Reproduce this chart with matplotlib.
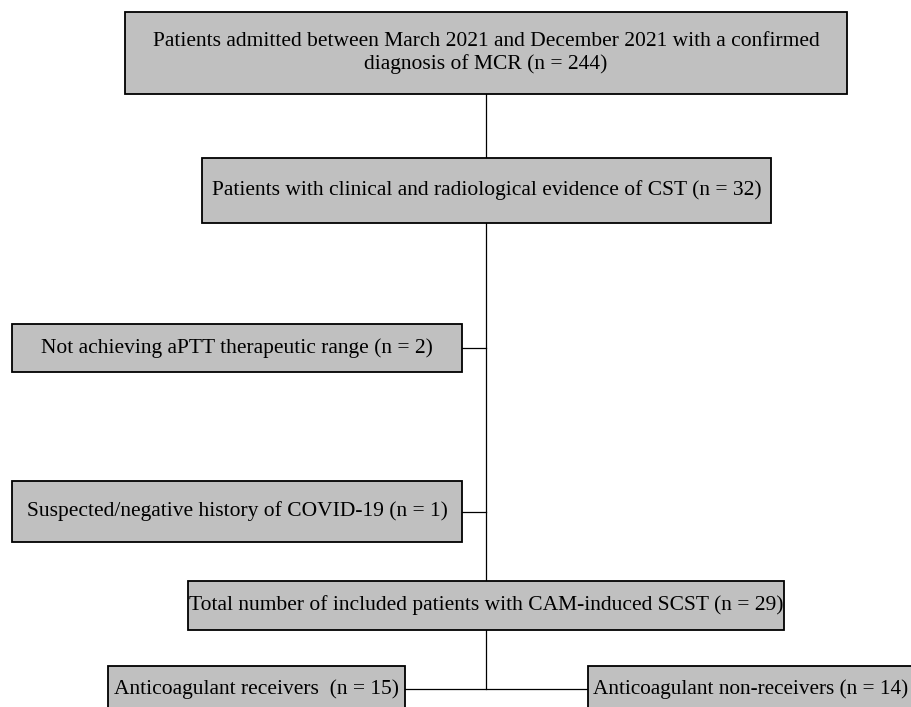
"""
Flowchart of patient selection (MCR / CST / CAM-induced SCST)
pixel coordinates, y axis pointing down
"""

import matplotlib.pyplot as plt
from matplotlib.patches import Rectangle

plt.rcParams['font.family'] = ['Liberation Serif', 'DejaVu Serif']

# box texts
box_texts = [
    'Patients admitted between March 2021 and December 2021 with a confirmed\ndiagnosis of MCR (n = 244)',
    'Patients with clinical and radiological evidence of CST (n = 32)',
    'Not achieving aPTT therapeutic range (n = 2)',
    'Suspected/negative history of COVID-19 (n = 1)',
    'Total number of included patients with CAM-induced SCST (n = 29)',
    'Anticoagulant receivers  (n = 15)',
    'Anticoagulant non-receivers (n = 14)',
]

# layout: (left, top, right, bottom) in pixels
box_layout = [
    (125, 12, 847, 94),
    (202, 158, 771, 223),
    (12, 324, 462, 372),
    (12, 481, 462, 542),
    (188, 581, 784, 630),
    (108, 666, 405, 730),
    (588, 666, 960, 730),
]

W, H = 911, 707
FILL = '#c0c0c0'
FS = 15.5

fig = plt.figure(figsize=(W / 100, H / 100), dpi=100)
ax = fig.add_axes([0, 0, 1, 1])
ax.set_xlim(0, W)
ax.set_ylim(H, 0)
ax.axis('off')

# 接続線
cx = 486
y_split = 689
line_kw = dict(color='black', linewidth=0.9, zorder=1)
ax.plot([cx, cx], [box_layout[0][3], box_layout[1][1]], **line_kw)
ax.plot([cx, cx], [box_layout[1][3], box_layout[4][1]], **line_kw)
for i in (2, 3):
    ym = (box_layout[i][1] + box_layout[i][3]) / 2
    ax.plot([box_layout[i][2], cx], [ym, ym], **line_kw)
ax.plot([cx, cx], [box_layout[4][3], y_split], **line_kw)
ax.plot([box_layout[5][2], box_layout[6][0]], [y_split, y_split], **line_kw)

# ボックス
for i, (txt, (l, t, r, b)) in enumerate(zip(box_texts, box_layout)):
    ax.add_patch(Rectangle((l, t), r - l, b - t, facecolor=FILL,
                           edgecolor='black', linewidth=1.3, zorder=2))
    if i == 6:
        # 右端で切れているボックス
        ax.text(l + 5, y_split, txt, ha='left', va='center',
                fontsize=FS - 0.2, zorder=3)
    elif i == 5:
        ax.text((l + r) / 2, y_split, txt, ha='center', va='center',
                fontsize=FS, zorder=3)
    else:
        ax.text((l + r) / 2, (t + b) / 2, txt, ha='center', va='center',
                fontsize=FS, linespacing=1.15, zorder=3)

plt.savefig('out.png', dpi=100)
